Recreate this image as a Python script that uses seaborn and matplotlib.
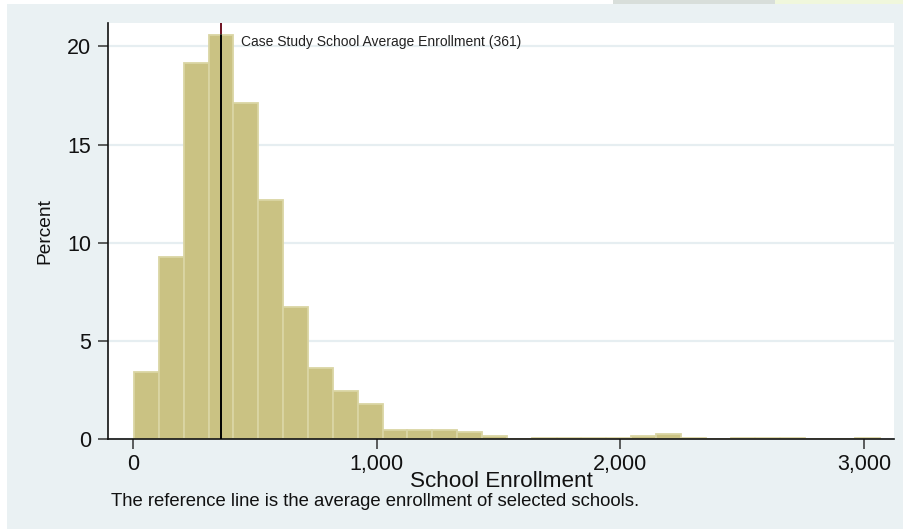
import matplotlib
matplotlib.use("Agg")
import matplotlib.pyplot as plt
import matplotlib.ticker as mticker
from matplotlib.patches import Rectangle
import numpy as np
import pandas as pd
import seaborn as sns

# Histogram bins (school enrollment) and share of schools in each bin (%)
bin_start = 4
bin_width = 102
percent = [3.44, 9.30, 19.17, 20.58, 17.12, 12.19, 6.73, 3.65, 2.48, 1.82,
           0.45, 0.45, 0.46, 0.35, 0.18, 0.0, 0.07, 0.07, 0.07, 0.07,
           0.19, 0.28, 0.07, 0.0, 0.07, 0.07, 0.07, 0.0, 0.0, 0.07]
case_study_avg = 361
x_ticks = [0, 1000, 2000, 3000]
y_ticks = [0, 5, 10, 15, 20]

edges = bin_start + bin_width * np.arange(len(percent) + 1)
hist_df = pd.DataFrame({"enrollment": (edges[:-1] + edges[1:]) / 2,
                        "percent": percent})

BG = "#EAF1F3"
BAR = "#CAC283"
BAR_EDGE = "#DAD5A4"

sns.set_theme(style="white")
plt.rcParams["font.family"] = ["Liberation Sans", "DejaVu Sans"]

fig = plt.figure(figsize=(9.04, 5.29), dpi=100)
fig.patch.set_facecolor(BG)

# thin strips along the top and left border
W, H = 904, 529
for x0, x1, y0, y1, c in [(0, 7, 0, 529, "white"), (0, 613, 0, 4, "white"),
                          (613, 775, 0, 4, "#D8DEDA"), (775, 904, 0, 4, "#F0F7DC")]:
    fig.patches.append(Rectangle((x0 / W, 1 - y1 / H), (x1 - x0) / W, (y1 - y0) / H,
                                 transform=fig.transFigure, facecolor=c,
                                 edgecolor="none", zorder=-1))

ax = fig.add_axes([108 / W, 1 - 439.3 / H, (894 - 108) / W, (439.3 - 23) / H])
ax.set_facecolor("white")

# reference line behind the bars
ax.axvline(case_study_avg, color="#6E1020", lw=1.4, zorder=0.5)

sns.histplot(data=hist_df, x="enrollment", weights="percent",
             bins=[float(e) for e in edges], ax=ax,
             color=BAR, edgecolor=BAR_EDGE, linewidth=1.3, alpha=1, zorder=2)

# black segment of the reference line drawn over the bars
bar_h = percent[int((case_study_avg - bin_start) // bin_width)]
ax.plot([case_study_avg, case_study_avg], [0, bar_h], color="black", lw=1.4, zorder=3)

ax.text(443, 20.2, "Case Study School Average Enrollment (361)",
        fontsize=10.0, color="#222222", va="center", ha="left", zorder=4)

ax.set_xlim(-102.6, 3122.7)
ax.set_ylim(0, 21.19)
ax.set_xticks(x_ticks)
ax.set_yticks(y_ticks)
ax.xaxis.set_major_formatter(mticker.FuncFormatter(lambda v, p: f"{int(v):,}"))
ax.yaxis.grid(True, color="#E6EEF1", lw=1.6, zorder=0)
ax.set_axisbelow(True)

for side in ["top", "right"]:
    ax.spines[side].set_visible(False)
for side in ["left", "bottom"]:
    ax.spines[side].set_color("#111111")
    ax.spines[side].set_linewidth(1.2)

ax.tick_params(axis="both", which="major", direction="out", length=7, width=1.1,
               color="#333333", labelsize=15.5, labelcolor="#111111")
ax.tick_params(axis="x", pad=3.5, bottom=True)
ax.tick_params(axis="y", pad=5, left=True)

ax.set_xlabel("School Enrollment", fontsize=16.2, color="#111111")
ax.xaxis.set_label_coords(0.5, -0.102, transform=ax.transAxes)
ax.xaxis.label.set_va("center")
ax.set_ylabel("Percent", fontsize=13.8, color="#111111")
ax.yaxis.set_label_coords(45 / W, 1 - 231 / H, transform=fig.transFigure)
ax.yaxis.label.set_va("center")

fig.text(111 / W, 1 - 502 / H,
         "The reference line is the average enrollment of selected schools.",
         fontsize=13.3, color="#111111", ha="left", va="center")

fig.savefig("out.png", dpi=100, facecolor=fig.get_facecolor())
